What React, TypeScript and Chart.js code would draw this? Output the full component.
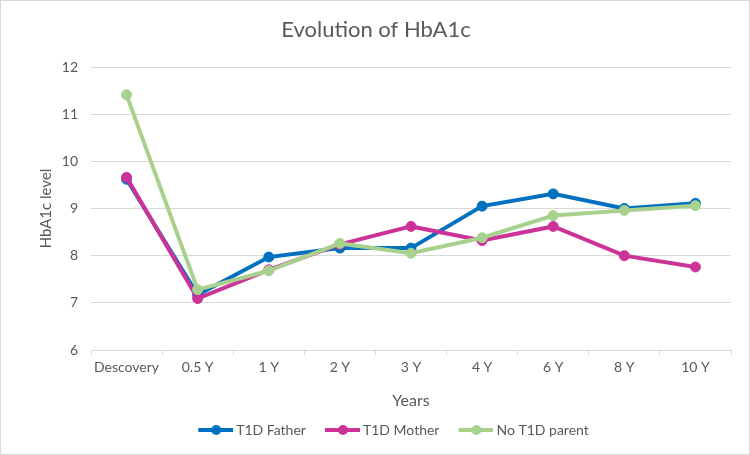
import { useEffect, useRef } from "react";
import { Chart, registerables } from "chart.js";

Chart.register(...registerables);

// Follow-up time points
const categories = ["Descovery", "0.5 Y", "1 Y", "2 Y", "3 Y", "4 Y", "6 Y", "8 Y", "10 Y"];

// Mean HbA1c level per group
const t1dFather = [9.62, 7.17, 7.97, 8.16, 8.16, 9.05, 9.31, 9.0, 9.11];
const t1dMother = [9.66, 7.09, 7.7, 8.24, 8.62, 8.32, 8.62, 8.0, 7.76];
const noT1dParent = [11.41, 7.28, 7.68, 8.26, 8.05, 8.38, 8.85, 8.96, 9.06];

const seriesNames = ["T1D Father", "T1D Mother", "No T1D parent"];
const seriesColors = ["#0070C0", "#CC3399", "#A9D18E"];

const yMin = 6;
const yMax = 12;

const FONT = "Lato, 'Open Sans', sans-serif";
const TEXT = "#595959";
const GRID = "#d9d9d9";

// Legend marker box: blank lead-in, then a short line with a dot in the middle
const MARK_BOX = 40;
const MARK_W = 48;
function legendMarker(color: string): HTMLCanvasElement {
  const c = document.createElement("canvas");
  c.width = MARK_W;
  c.height = 12;
  const ctx = c.getContext("2d")!;
  ctx.strokeStyle = color;
  ctx.lineWidth = 4;
  ctx.beginPath();
  ctx.moveTo(13, 6);
  ctx.lineTo(48, 6);
  ctx.stroke();
  ctx.fillStyle = color;
  ctx.beginPath();
  ctx.arc(31, 6, 5, 0, Math.PI * 2);
  ctx.fill();
  return c;
}

// Shift the title and legend boxes sideways after layout
const boxShift = {
  id: "boxShift",
  afterLayout(chart: any) {
    if (chart.legend) {
      chart.legend.left += 23;
      chart.legend.right += 23;
    }
    if (chart.titleBlock) {
      chart.titleBlock.left += 10;
      chart.titleBlock.right += 10;
    }
  },
};

export default function App() {
  const ref = useRef<HTMLCanvasElement | null>(null);

  useEffect(() => {
    document.body.style.margin = "0";
    if (!ref.current) return;
    const values = [t1dFather, t1dMother, noT1dParent];
    const markers = seriesColors.map(legendMarker);
    const chart = new Chart(ref.current, {
      type: "line",
      data: {
        labels: categories,
        datasets: values.map((data, i) => ({
          label: seriesNames[i],
          data,
          borderColor: seriesColors[i],
          backgroundColor: seriesColors[i],
          pointBackgroundColor: seriesColors[i],
          pointBorderColor: seriesColors[i],
          borderWidth: 4,
          pointRadius: 5,
          pointBorderWidth: 1,
          tension: 0,
          order: 3 - i,
        })),
      },
      plugins: [boxShift],
      options: {
        animation: false,
        responsive: false,
        layout: { padding: { left: 0, right: 18, top: 0, bottom: 7 } },
        plugins: {
          title: {
            display: true,
            text: "Evolution of HbA1c",
            color: TEXT,
            font: { family: FONT, size: 22, weight: "normal" },
            padding: { top: 16, bottom: 23.6 },
          },
          legend: {
            position: "bottom",
            labels: {
              usePointStyle: true,
              pointStyleWidth: MARK_BOX,
              padding: 10,
              color: TEXT,
              font: { family: FONT, size: 14 },
              sort: (a: any, b: any) => a.datasetIndex - b.datasetIndex,
              generateLabels: (ch: any) =>
                ch.data.datasets.map((ds: any, i: number) => ({
                  text: ds.label,
                  datasetIndex: i,
                  pointStyle: markers[i],
                  fillStyle: seriesColors[i],
                  strokeStyle: seriesColors[i],
                  lineWidth: 0,
                  hidden: false,
                  fontColor: TEXT,
                })),
            },
          },
          tooltip: { enabled: false },
        },
        scales: {
          x: {
            offset: true,
            grid: {
              display: true,
              drawOnChartArea: false,
              drawTicks: true,
              tickLength: 5,
              color: GRID,
              offset: true,
            },
            border: { display: true, color: GRID, width: 1 },
            ticks: {
              color: TEXT,
              font: { family: FONT, size: 14 },
              padding: 4,
              maxRotation: 0,
              autoSkip: false,
            },
            title: {
              display: true,
              text: "Years",
              color: TEXT,
              font: { family: FONT, size: 16 },
              padding: { top: 11.6, bottom: 2.4 },
            },
          },
          y: {
            min: yMin,
            max: yMax,
            afterFit: (scale: any) => {
              scale.width = 90;
            },
            grid: { color: GRID, drawTicks: false, lineWidth: 1 },
            border: { display: false },
            ticks: {
              stepSize: 1,
              color: TEXT,
              font: { family: FONT, size: 14 },
              padding: 13,
            },
            title: {
              display: true,
              text: "HbA1c level",
              color: TEXT,
              font: { family: FONT, size: 15 },
              padding: { top: 36, bottom: 0 },
            },
          },
        },
      },
    });
    return () => chart.destroy();
  }, []);

  return (
    <div
      style={{
        width: 750,
        height: 455,
        boxSizing: "border-box",
        border: "1px solid #d9d9d9",
        background: "#fff",
        position: "relative",
        overflow: "hidden",
      }}
    >
      <canvas
        ref={ref}
        width={748}
        height={453}
        style={{ display: "block", width: 748, height: 453 }}
      />
    </div>
  );
}
